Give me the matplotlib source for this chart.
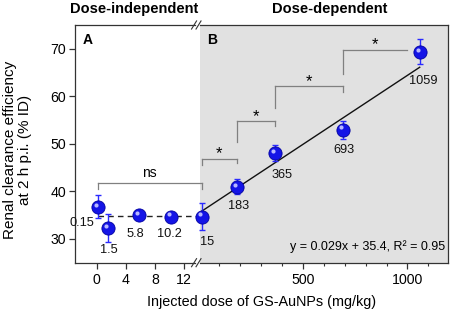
import matplotlib
matplotlib.use('Agg')
import matplotlib.pyplot as plt
import numpy as np
from matplotlib.patches import Rectangle
from matplotlib.lines import Line2D
from matplotlib.transforms import offset_copy

plt.rcParams['font.family'] = ['Liberation Sans', 'DejaVu Sans']

# data
dose = [0.15, 1.5, 5.8, 10.2, 15, 183, 365, 693, 1059]
dose_labels = ['0.15', '1.5', '5.8', '10.2', '15', '183', '365', '693', '1059']
clearance = [36.8, 32.3, 35.1, 34.7, 34.7, 41.0, 48.1, 53.0, 69.4]
clearance_err = [2.4, 2.9, 0.5, 0.5, 2.8, 1.5, 1.7, 1.9, 2.6]
label_offsets = [(-3, -16), (1, -22), (-4, -19), (-2, -17), (5, -25),
                 (2, -19), (7, -22), (1, -20), (4, -29)]

ns_mean = 34.9
fit_slope, fit_icpt, fit_r2 = 0.029, 35.4, 0.95
fit_range = [15, 1059]

# brackets: x1, x2, top, left leg bottom, right leg bottom (None = no leg), mark
brackets = [
    (0.15, 15, 41.8, 40.6, 40.6, 'ns'),
    (15, 183, 46.9, 45.5, 45.9, '*'),
    (183, 365, 54.8, 50.4, 53.7, '*'),
    (365, 693, 62.1, 57.6, 60.9, '*'),
    (693, 1000, 69.8, 64.6, None, '*'),
]

# broken x axis: linear 0..14 then compressed 15..1200
L_SCALE, L_OFF = 7.28, 3.05
R_SCALE = 0.2088
P14 = (14 + L_OFF) * L_SCALE
P15 = 127.2


def fwd(x):
    x = np.asarray(x, dtype=float)
    return np.where(x <= 14, (x + L_OFF) * L_SCALE,
                    np.where(x <= 15, P14 + (x - 14) * (P15 - P14),
                             P15 + (x - 15) * R_SCALE))


def inv(p):
    p = np.asarray(p, dtype=float)
    return np.where(p <= P14, p / L_SCALE - L_OFF,
                    np.where(p <= P15, 14 + (p - P14) / (P15 - P14),
                             15 + (p - P15) / R_SCALE))


fig = plt.figure(figsize=(4.5, 3.14), dpi=100)
ax = fig.add_axes([0.1656, 0.1634, 0.8300, 0.7570])
ax.set_xscale('function', functions=(fwd, inv))
ax.set_xlim(-3.05, 1194.6)
ax.set_ylim(25, 75)

# grey panel B
gap_l, gap_r = 0.3226, 0.336
ax.add_patch(Rectangle((gap_r, 0), 1 - gap_r, 1, transform=ax.transAxes,
                       facecolor='#e1e1e1', edgecolor='none', zorder=0))

# frame with a gap for the break
for s in ['top', 'bottom']:
    ax.spines[s].set_visible(False)
for yy in [0, 1]:
    for xs in [(0, gap_l), (gap_r, 1)]:
        ax.add_line(Line2D(xs, [yy, yy], transform=ax.transAxes, color='#333333',
                           lw=0.9, clip_on=False, zorder=5))
    for xc in [0.320, 0.332]:
        ax.add_line(Line2D([xc - 0.0067, xc + 0.0067], [yy - 0.017, yy + 0.017],
                           transform=ax.transAxes, color='#333333', lw=0.8,
                           clip_on=False, zorder=5))
for s in ['left', 'right']:
    ax.spines[s].set_color('#333333')
    ax.spines[s].set_linewidth(0.9)

# dashed mean line and fit line
ax.plot([dose[0], 15], [ns_mean, ns_mean], ls=(0, (4, 3)), color='#222222', lw=1, zorder=2)
fx = np.array(fit_range)
ax.plot(fx, fit_slope * fx + fit_icpt, color='#111111', lw=1, zorder=2)

# brackets
for x1, x2, top, lb, rb, mark in brackets:
    ax.plot([x1, x2], [top, top], color='#808080', lw=0.9, zorder=1)
    ax.plot([x1, x1], [lb, top], color='#808080', lw=0.9, zorder=1)
    if rb is not None:
        ax.plot([x2, x2], [rb, top], color='#808080', lw=0.9, zorder=1)
    xm = inv((fwd(x1) + fwd(x2)) / 2)
    if mark == 'ns':
        ax.text(xm, top + 0.5, mark, ha='center', va='bottom', fontsize=10)
    else:
        ax.text(xm, top - 0.6, mark, ha='center', va='bottom', fontsize=12)

# points with error bars
ax.errorbar(dose, clearance, yerr=clearance_err, fmt='none', ecolor='#2a2aff',
            elinewidth=1, capsize=2.5, capthick=1, zorder=3)
ax.plot(dose, clearance, 'o', ms=9.5, color='#1414e6', mec='#0000a0', mew=0.6,
        zorder=4, clip_on=False)
hl = offset_copy(ax.transData, fig=fig, x=-1.5, y=1.5, units='points')
ax.plot(dose, clearance, 'o', ms=3, color='#b8b8ff', mec='none', transform=hl,
        zorder=5, clip_on=False)

for x, y, lab, (ox, oy) in zip(dose, clearance, dose_labels, label_offsets):
    ha = 'right' if lab == '0.15' else 'center'
    ax.annotate(lab, (x, y), xytext=(ox, oy), textcoords='offset pixels',
                ha=ha, va='center', fontsize=9.2, color='#111111')

# ticks
ax.set_xticks([0, 4, 8, 12, 500, 1000])
ax.set_xticklabels(['0', '4', '8', '12', '500', '1000'])
ax.set_xticks([m for m in range(100, 1200, 100) if m not in (500, 1000)], minor=True)
ax.set_yticks([30, 40, 50, 60, 70])
ax.tick_params(axis='both', which='major', direction='out', length=4, width=0.9,
               labelsize=10.2, color='#333333', pad=2)
ax.tick_params(axis='x', which='minor', direction='out', length=2.2, width=0.8,
               color='#333333')
ax.tick_params(axis='x', pad=3.5)

# panel letters, titles, labels
ax.text(0.036, 0.937, 'A', transform=ax.transAxes, ha='center', va='center',
        fontsize=10, fontweight='bold')
ax.text(0.3695, 0.937, 'B', transform=ax.transAxes, ha='center', va='center',
        fontsize=10, fontweight='bold')
ax.text(0.992, 0.066, f'y = {fit_slope}x + {fit_icpt}, R\u00b2 = {fit_r2}',
        transform=ax.transAxes, ha='right', va='center', fontsize=9)

fig.text(134.5 / 450, 1 - 9.5 / 314, 'Dose-independent', ha='center', va='center',
         fontsize=10.5, fontweight='bold')
fig.text(330 / 450, 1 - 9.5 / 314, 'Dose-dependent', ha='center', va='center',
         fontsize=10.5, fontweight='bold')
fig.text(17.5 / 450, 1 - 150 / 314, 'Renal clearance efficiency\nat 2 h p.i. (% ID)',
         rotation=90, ha='center', va='center', fontsize=11, multialignment='center',
         linespacing=1.05)
fig.text(262 / 450, 1 - 302 / 314, 'Injected dose of GS-AuNPs (mg/kg)',
         ha='center', va='center', fontsize=10.4)

fig.savefig('out.png', dpi=100)
